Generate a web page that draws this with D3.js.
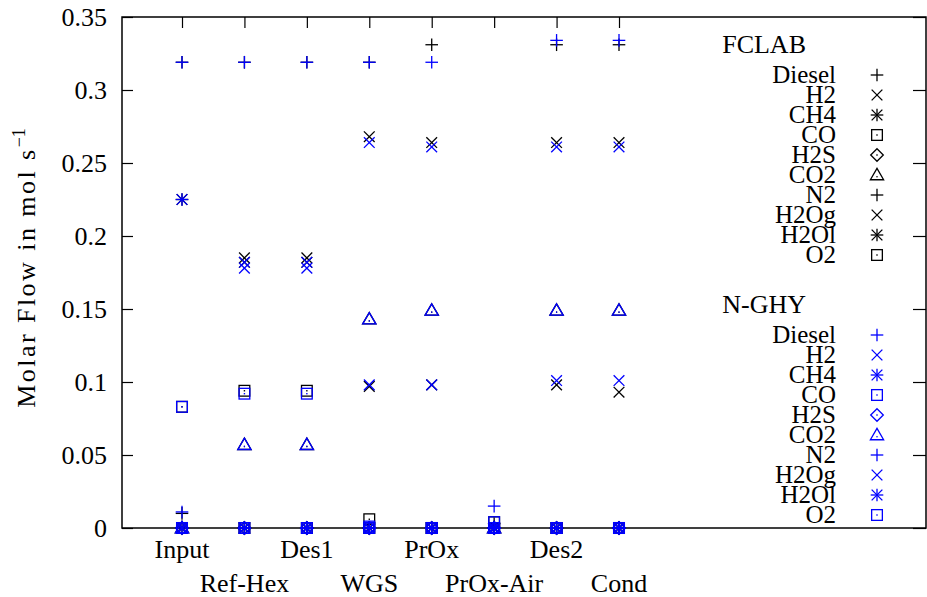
<!DOCTYPE html>
<html><head><meta charset="utf-8">
<script src="https://cdn.jsdelivr.net/npm/d3@7"></script>
<style>
body{margin:0;background:#fff;}
text{font-family:"Liberation Serif","Times New Roman",serif;fill:#000;}
</style></head>
<body><svg id="c" width="927" height="597"></svg>
<script>
const categories = ["Input","Ref-Hex","Des1","WGS","PrOx","PrOx-Air","Des2","Cond"];
const species = ["Diesel","H2","CH4","CO","H2S","CO2","N2","H2Og","H2Ol","O2"];
const symbols = ["plus","cross","star","box","diamond","triangle","plus","cross","star","box"];
const yTicks = [0,0.05,0.1,0.15,0.2,0.25,0.3,0.35];
const yTickLabels = ["0","0.05","0.1","0.15","0.2","0.25","0.3","0.35"];
const groups = ["FCLAB","N-GHY"];
const groupColors = ["#000000","#0000ff"];

// values per species, per category (Input..Cond)
const fclabDiesel = [0.010,0,0,0,0,0,0,0];
const fclabH2     = [0,0.185,0.185,0.268,0.264,0,0.264,0.264];
const fclabCH4    = [0,0,0,0,0,0,0,0];
const fclabCO     = [0,0.094,0.094,0.006,0,0,0,0];
const fclabH2S    = [0,0,0,0,0,0,0,0];
const fclabCO2    = [0,0.057,0.057,0.143,0.149,0,0.149,0.149];
const fclabN2     = [0.319,0.319,0.319,0.319,0.331,0.003,0.331,0.331];
const fclabH2Og   = [0,0.182,0.182,0.097,0.098,0,0.098,0.093];
const fclabH2Ol   = [0.225,0,0,0,0,0,0,0];
const fclabO2     = [0.083,0,0,0,0,0.004,0,0];

const nghyDiesel = [0.011,0,0,0,0,0,0,0];
const nghyH2     = [0,0.182,0.182,0.264,0.261,0,0.261,0.261];
const nghyCH4    = [0,0,0,0,0,0,0,0];
const nghyCO     = [0,0.092,0.092,0.001,0,0,0,0];
const nghyH2S    = [0,0,0,0,0,0,0,0];
const nghyCO2    = [0,0.057,0.057,0.143,0.149,0,0.149,0.149];
const nghyN2     = [0.319,0.319,0.319,0.319,0.319,0.015,0.334,0.334];
const nghyH2Og   = [0,0.178,0.178,0.098,0.098,0,0.101,0.101];
const nghyH2Ol   = [0.225,0,0,0,0,0,0,0];
const nghyO2     = [0.083,0,0,0,0,0.004,0,0];

const fclab = [fclabDiesel,fclabH2,fclabCH4,fclabCO,fclabH2S,fclabCO2,fclabN2,fclabH2Og,fclabH2Ol,fclabO2];
const nghy  = [nghyDiesel,nghyH2,nghyCH4,nghyCO,nghyH2S,nghyCO2,nghyN2,nghyH2Og,nghyH2Ol,nghyO2];
const allData = [fclab, nghy];

const svg = d3.select("#c");
const L = 122, R = 926, T = 17, B = 528;
const x = d3.scalePoint().domain(categories).range([182, 619]);
const y = d3.scaleLinear().domain([0, 0.35]).range([B, T]);

function marker(g, type, cx, cy, color) {
  const s = 6.3, sw = 1.3;
  const p = g.append("g").attr("transform", `translate(${cx},${cy})`)
    .attr("stroke", color).attr("stroke-width", sw).attr("fill", "none");
  const line = (x1,y1,x2,y2)=>p.append("line").attr("x1",x1).attr("y1",y1).attr("x2",x2).attr("y2",y2);
  const dot = ()=>p.append("rect").attr("x",-0.7).attr("y",-0.7).attr("width",1.4).attr("height",1.4).attr("fill",color).attr("stroke","none");
  if (type === "plus") { line(-s,0,s,0); line(0,-s,0,s); }
  else if (type === "cross") { const c=s*0.85; line(-c,-c,c,c); line(-c,c,c,-c); }
  else if (type === "star") { const c=s*0.85; line(-c,-c,c,c); line(-c,c,c,-c); line(-s,0,s,0); line(0,-s,0,s); }
  else if (type === "box") { const c=s*0.85; p.append("rect").attr("x",-c).attr("y",-c).attr("width",2*c).attr("height",2*c); dot(); }
  else if (type === "diamond") { p.append("path").attr("d",`M0,${-s}L${s},0L0,${s}L${-s},0Z`); dot(); }
  else if (type === "triangle") { p.append("path").attr("d",`M0,${-s*1.05}L${s*1.05},${s*0.75}L${-s*1.05},${s*0.75}Z`); p.append("rect").attr("x",-0.6).attr("y",1).attr("width",1.2).attr("height",1.4).attr("fill",color).attr("stroke","none"); }
}

// frame
svg.append("rect").attr("x",L).attr("y",T).attr("width",R-L).attr("height",B-T)
  .attr("fill","none").attr("stroke","#000").attr("stroke-width",1.5);

// y axis ticks & labels
const yAxisL = d3.axisLeft(y).tickValues(yTicks).tickSize(-11).tickFormat((d,i)=>yTickLabels[i]).tickPadding(15);
const gy = svg.append("g").attr("transform",`translate(${L},0)`).call(yAxisL);
gy.select(".domain").remove();
gy.selectAll("line").attr("stroke","#000").attr("stroke-width",1.2);
gy.selectAll("text").style("font-size","26px").style("font-family","Liberation Serif").attr("dy","0.33em");

const yAxisR = d3.axisRight(y).tickValues(yTicks).tickSize(-13).tickFormat("");
const gyr = svg.append("g").attr("transform",`translate(${R},0)`).call(yAxisR);
gyr.select(".domain").remove();
gyr.selectAll("line").attr("stroke","#000").attr("stroke-width",1.2);

// top ticks at categories
const xTop = d3.axisTop(x).tickSize(-11).tickFormat("");
const gxt = svg.append("g").attr("transform",`translate(0,${T})`).call(xTop);
gxt.select(".domain").remove();
gxt.selectAll("line").attr("stroke","#000").attr("stroke-width",1.2);

// bottom labels, alternating rows
svg.append("g").selectAll("text").data(categories).join("text")
  .attr("x", d=>x(d)).attr("y",(d,i)=> i%2===0 ? 558 : 592)
  .attr("text-anchor","middle").style("font-size","26px").text(d=>d);

// y label
const yl = svg.append("text").attr("transform","translate(35,268) rotate(-90)")
  .attr("text-anchor","middle").style("font-size","26px");
yl.append("tspan").attr("textLength",258).attr("lengthAdjust","spacing").text("Molar Flow in mol s");
yl.append("tspan").attr("dy","-10").style("font-size","18px").text("\u22121");

// data points
allData.forEach((grp, gi) => {
  const g = svg.append("g");
  grp.forEach((vals, si) => {
    vals.forEach((v, ci) => marker(g, symbols[si], x(categories[ci]), y(v), groupColors[gi]));
  });
});

// legend
const legTop = [44, 304];
groups.forEach((name, gi) => {
  svg.append("text").attr("x",806).attr("y",legTop[gi]).attr("dy","0.35em")
    .attr("text-anchor","end").style("font-size","26px").text(name);
  const lg = svg.append("g");
  species.forEach((sp, si) => {
    const yy = legTop[gi] + 31 + si*20;
    svg.append("text").attr("x",836).attr("y",yy).attr("dy","0.33em")
      .attr("text-anchor","end").style("font-size","25px").text(sp);
    marker(lg, symbols[si], 877, yy, groupColors[gi]);
  });
});
</script></body></html>
